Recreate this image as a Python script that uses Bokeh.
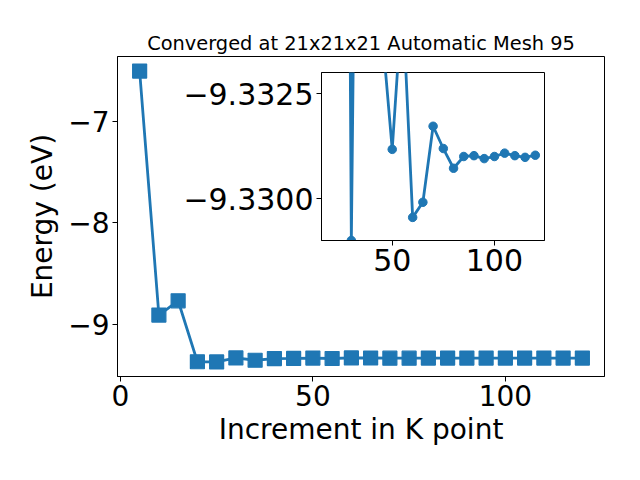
from bokeh.plotting import figure
from bokeh.models import Range1d, FixedTicker, CustomJSTickFormatter
from bokeh.embed import file_html
from bokeh.resources import INLINE

# ---- data ----
kpoints = [5, 10, 15, 20, 25, 30, 35, 40, 45, 50, 55, 60, 65, 70, 75, 80,
           85, 90, 95, 100, 105, 110, 115, 120]
energy = [-6.506, -8.908, -8.767, -9.367, -9.369, -9.3290, -9.352, -9.336,
          -9.3340, -9.33117, -9.3348, -9.32955, -9.32991, -9.33172, -9.33119,
          -9.33072, -9.33100, -9.33102, -9.33095, -9.33100, -9.33108, -9.33102,
          -9.33098, -9.33103]

main_x_ticks = [0, 50, 100]
main_y_ticks = [-9, -8, -7]
inset_x_ticks = [50, 100]
inset_y_ticks = [-9.3325, -9.3300]

title_text = "Converged at 21x21x21 Automatic Mesh 95"
x_label = "Increment in K point"
y_label = "Energy (eV)"

BLUE = "#1f77b4"
FONT = "DejaVu Sans"


def fmt(decimals):
    return CustomJSTickFormatter(
        code="return (tick < 0 ? '\u2212' : '') + Math.abs(tick).toFixed(%d);" % decimals)


def style_axes(fig, tick_size="28px", standoff=3):
    for ax in list(fig.xaxis) + list(fig.yaxis):
        ax.major_label_text_font = FONT
        ax.major_label_text_font_size = tick_size
        ax.major_label_text_color = "black"
        ax.axis_label_text_font = FONT
        ax.axis_label_text_font_size = "28px"
        ax.axis_label_text_font_style = "normal"
        ax.axis_label_text_color = "black"
        ax.minor_tick_line_color = None
        ax.major_tick_in = 0
        ax.major_tick_out = 5
        ax.major_tick_line_color = "black"
        ax.major_tick_line_width = 1
        ax.axis_line_color = "black"
        ax.axis_line_width = 1
        ax.major_label_standoff = standoff
    fig.xgrid.visible = False
    fig.ygrid.visible = False
    fig.outline_line_color = "black"
    fig.outline_line_alpha = 1
    fig.outline_line_width = 1


# ---- main figure ----
p = figure(width=624, height=464,
           x_range=Range1d(-0.75, 125.75), y_range=Range1d(-9.512, -6.363),
           min_border_left=109, min_border_right=28, min_border_top=48,
           min_border_bottom=96, output_backend="svg", toolbar_location=None,
           title=title_text, background_fill_color="white",
           border_fill_color="white",
           styles={"position": "absolute", "left": "8px", "top": "8px"})
p.title.text_font = FONT
p.title.text_font_size = "19.4px"
p.title.text_font_style = "normal"
p.title.text_color = "black"
p.title.align = "center"
p.title.standoff = 4
style_axes(p)
p.xaxis.ticker = FixedTicker(ticks=main_x_ticks)
p.yaxis.ticker = FixedTicker(ticks=main_y_ticks)
p.yaxis.formatter = fmt(0)
p.xaxis.axis_label = x_label
p.yaxis.axis_label = y_label
p.xaxis.axis_label_standoff = 4
p.yaxis.axis_label_standoff = 6

p.line(kpoints, energy, color=BLUE, line_width=2.8)
p.scatter(kpoints, energy, marker="square", size=14, color=BLUE, line_width=1.2)

# ---- inset figure (zoom on the converged tail) ----
ins_k = kpoints[3:]
ins_e = energy[3:]
ins = figure(width=375, height=220,
             x_range=Range1d(15.4, 124.5), y_range=Range1d(-9.3290, -9.3330),
             min_border_left=150, min_border_right=2, min_border_top=2,
             min_border_bottom=50, output_backend="svg", toolbar_location=None,
             background_fill_color="white", border_fill_color=None,
             styles={"position": "absolute", "left": "171px", "top": "70px"})
style_axes(ins, tick_size="30px")
ins.xaxis.ticker = FixedTicker(ticks=inset_x_ticks)
ins.yaxis.ticker = FixedTicker(ticks=inset_y_ticks)
ins.yaxis.formatter = fmt(4)

ins.line(ins_k, ins_e, color=BLUE, line_width=2.8)
ins.scatter(ins_k, ins_e, marker="circle", size=8.5, color=BLUE, line_width=1)

open("out.html", "w").write(file_html([p, ins], INLINE))
